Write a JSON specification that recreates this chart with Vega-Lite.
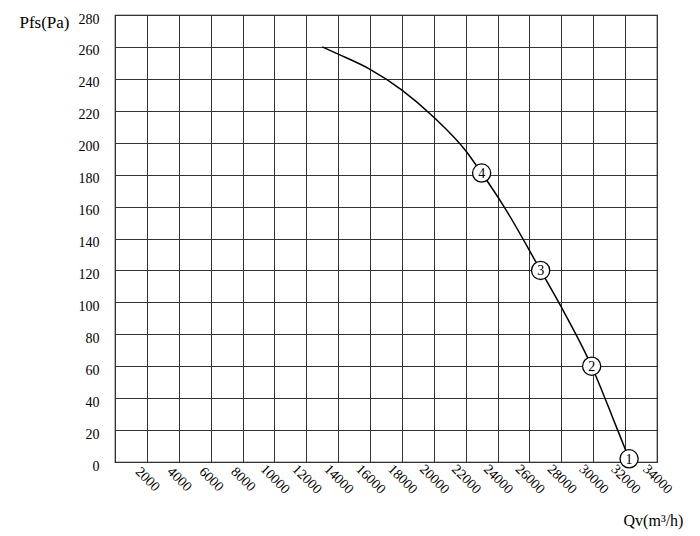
{
  "$schema": "https://vega.github.io/schema/vega-lite/v6.json",
  "width": 542,
  "height": 447,
  "autosize": {"type": "none"},
  "padding": {"left": 115, "top": 15, "right": 43, "bottom": 74},
  "background": "white",
  "config": {
    "view": {"stroke": "#111", "strokeWidth": 1.2},
    "font": "Liberation Serif",
    "axis": {
      "labelFont": "Liberation Serif",
      "labelFontSize": 14,
      "labelColor": "#000",
      "labelOverlap": false,
      "titleFont": "Liberation Serif",
      "titleFontSize": 15,
      "titleFontWeight": "normal",
      "titleColor": "#000",
      "ticks": false,
      "domain": false,
      "grid": true,
      "gridColor": "#333",
      "gridWidth": 1,
      "gridOpacity": 1
    }
  },
  "datasets": {
    "curve": [
      {"q": 13000, "p": 260},
      {"q": 14000, "p": 255.5},
      {"q": 16000, "p": 246},
      {"q": 18000, "p": 233},
      {"q": 20000, "p": 216},
      {"q": 22000, "p": 195},
      {"q": 23000, "p": 181},
      {"q": 24400, "p": 160},
      {"q": 26700, "p": 120},
      {"q": 28000, "p": 97},
      {"q": 29900, "p": 60},
      {"q": 31450, "p": 22},
      {"q": 32250, "p": 2}
    ],
    "points": [
      {"q": 32250, "p": 2, "n": "1"},
      {"q": 29900, "p": 60, "n": "2"},
      {"q": 26700, "p": 120, "n": "3"},
      {"q": 23000, "p": 181, "n": "4"}
    ]
  },
  "encoding": {
    "x": {
      "field": "q",
      "type": "quantitative",
      "scale": {"domain": [0, 34000], "nice": false},
      "axis": {
        "values": [0, 2000, 4000, 6000, 8000, 10000, 12000, 14000, 16000, 18000, 20000, 22000, 24000, 26000, 28000, 30000, 32000, 34000],
        "format": "d",
        "labelExpr": "datum.value == 0 ? '' : datum.label",
        "labelAngle": 45,
        "labelAlign": "center",
        "labelBaseline": "middle",
        "labelPadding": 17,
        "title": "Qv(m³/h)",
        "titleAngle": 0,
        "titleAlign": "center",
        "titleBaseline": "middle",
        "titleFontSize": 16,
        "titleX": 538,
        "titleY": 58
      }
    },
    "y": {
      "field": "p",
      "type": "quantitative",
      "scale": {"domain": [0, 280], "nice": false},
      "axis": {
        "values": [0, 20, 40, 60, 80, 100, 120, 140, 160, 180, 200, 220, 240, 260, 280],
        "labelPadding": 16,
        "labelOffset": 4,
        "title": "Pfs(Pa)",
        "titleAngle": 0,
        "titleAlign": "center",
        "titleBaseline": "middle",
        "titleFontSize": 17,
        "titleX": -71,
        "titleY": 7
      }
    }
  },
  "layer": [
    {
      "data": {"name": "curve"},
      "mark": {"type": "line", "interpolate": "monotone", "color": "#000", "strokeWidth": 1.5},
      "encoding": {}
    },
    {
      "data": {"name": "points"},
      "mark": {"type": "point", "shape": "circle", "filled": true, "fill": "white", "stroke": "#000", "strokeWidth": 1.3, "size": 330, "opacity": 1},
      "encoding": {}
    },
    {
      "data": {"name": "points"},
      "mark": {"type": "text", "font": "Liberation Serif", "fontSize": 14, "color": "#000", "baseline": "middle", "align": "center", "dy": 1},
      "encoding": {"text": {"field": "n"}}
    }
  ]
}
